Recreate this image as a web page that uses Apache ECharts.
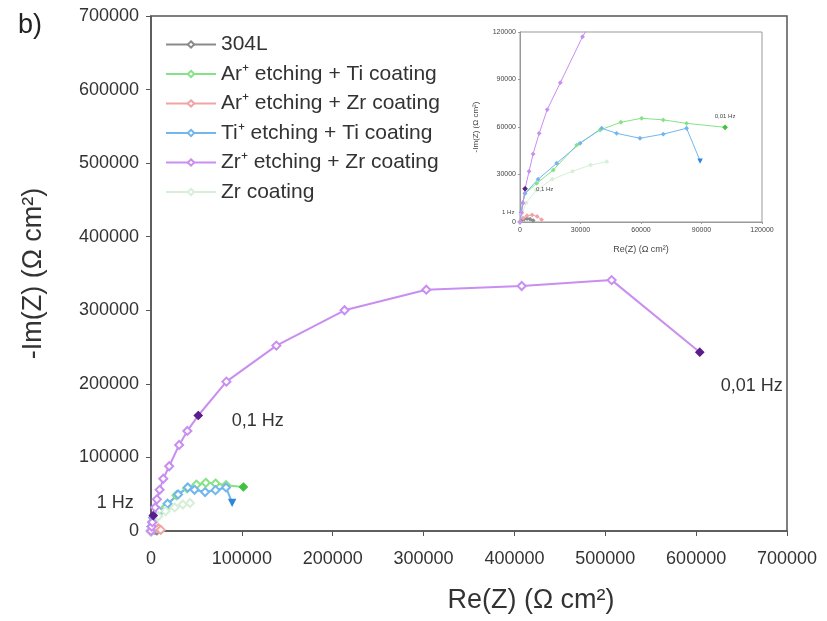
<!DOCTYPE html>
<html><head><meta charset="utf-8">
<script src="https://cdn.jsdelivr.net/npm/echarts@6/dist/echarts.min.js"></script>
<style>html,body{margin:0;padding:0;background:#fff}#c{width:827px;height:621px}</style>
</head><body><div id="c"></div>
<script>
// ---- data ----
const seriesNames = ['304L', 'Ar\u207A etching + Ti coating', 'Ar\u207A etching + Zr coating', 'Ti\u207A etching + Ti coating', 'Zr\u207A etching + Zr coating', 'Zr coating'];
const d304L = [[0,0],[800,1000],[2000,1800],[3500,2200],[5000,1800],[6500,900]];
const dArTi = [[0,0],[600,6000],[1400,12000],[2500,18000],[8300,24400],[16500,32800],[28100,48600],[39700,58100],[50000,63000],[60300,65500],[71000,64500],[82600,62300],[101700,59800]];
const dArZr = [[0,0],[1500,2500],[3500,4000],[6000,4500],[8500,3500],[10700,1500]];
const dTiTi = [[0,0],[500,6000],[1300,12000],[2480,18100],[9000,27000],[18200,37100],[29800,49700],[40500,59200],[47900,56000],[59500,52900],[71000,55500],[82600,59200],[89300,38700]];
const dZrZr = [[0,0],[800,6000],[1500,12000],[2500,21000],[4500,32000],[6500,43000],[9500,56000],[13500,71000],[20000,88000],[31000,117000],[40000,136000],[52000,157000],[83000,203000],[138000,252000],[213000,300000],[303000,328000],[408000,333000],[507000,341000],[604000,243000]];
const dZrCoat = [[0,0],[1000,5000],[3000,12000],[8000,20000],[16000,27000],[26000,32000],[35000,36000],[43000,38100]];
// frequency-marker indices (filled symbols)
const filledArTi = [12];
const filledTiTi = [12];
const filledZrZr = [3, 11, 18];
const xTicksMain = [0, 700000, 100000];
const yTicksMain = [0, 700000, 100000];
const ticksInset = [0, 120000, 30000];

const colors = ['#8a8a8a', '#86e286', '#f2a3a3', '#72b6ee', '#c98ef0', '#d6efd6'];
const filledColors = [null, '#3fc23f', null, '#2f86dc', '#5b1c8c', null];
const filledSymbols = [null, 'diamond', null, 'triangle', 'diamond', null];
const font = '"Liberation Sans", Arial, sans-serif';

const mainLabelCfg = {
  3: { show: true, formatter: '1 Hz', position: 'left', offset: [-10, -13], fontSize: 18, color: '#333', fontFamily: font },
  11: { show: true, formatter: '0,1 Hz', position: 'right', offset: [24, 6], fontSize: 18, color: '#333', fontFamily: font },
  18: { show: true, formatter: '0,01 Hz', position: 'bottom', offset: [52, 15], fontSize: 18, color: '#333', fontFamily: font }
};
const insetLabelCfgTi = {
  3: { show: true, formatter: '0,1 Hz', position: 'right', offset: [4, -4], fontSize: 6, color: '#444', fontFamily: font }
};
const insetLabelCfgArTi = {
  12: { show: true, formatter: '0,01 Hz', position: 'top', offset: [0, 0], fontSize: 6, color: '#444', fontFamily: font }
};
const insetLabelCfgZr = {
  3: { show: true, formatter: '1 Hz', position: 'left', offset: [-3, 24], fontSize: 6, color: '#444', fontFamily: font }
};

const allData = [d304L, dArTi, dArZr, dTiTi, dZrZr, dZrCoat];
const allFilled = [null, filledArTi, null, filledTiTi, filledZrZr, null];

function build(idx, inset, labelCfg) {
  const arr = allData[idx];
  const data = arr.map((p, i) => {
    const o = { value: p };
    const f = allFilled[idx];
    if (f && f.indexOf(i) >= 0) {
      const tri = filledSymbols[idx] === 'triangle';
      o.symbol = filledSymbols[idx];
      o.symbolRotate = tri ? 180 : 0;
      o.symbolSize = inset ? (tri ? 3.5 : 4) : (tri ? 6.5 : 8);
      o.itemStyle = { color: filledColors[idx], borderColor: filledColors[idx] };
    }
    if (labelCfg && labelCfg[i]) o.label = labelCfg[i];
    return o;
  });
  return {
    name: seriesNames[idx],
    type: 'line',
    xAxisIndex: inset ? 1 : 0,
    yAxisIndex: inset ? 1 : 0,
    data: data,
    symbol: 'emptyDiamond',
    symbolSize: inset ? 2 : 8,
    showSymbol: true,
    lineStyle: { color: colors[idx], width: inset ? 1 : 2 },
    itemStyle: { color: colors[idx], borderColor: colors[idx], borderWidth: 1.2 },
    color: colors[idx],
    clip: true,
    animation: false,
    z: idx === 4 ? 3 : 2
  };
}

const series = [];
for (let i = 0; i < 6; i++) series.push(build(i, false, i === 4 ? mainLabelCfg : null));
const insetCfgs = [null, insetLabelCfgArTi, null, insetLabelCfgTi, insetLabelCfgZr, null];
for (let i = 0; i < 6; i++) series.push(build(i, true, insetCfgs[i]));

const plain = v => String(v);
const axisText = { color: '#333', fontSize: 18, fontFamily: font, formatter: plain };
const option = {
  animation: false,
  backgroundColor: '#fff',
  graphic: [{ type: 'text', left: 18, top: 12, style: { text: 'b)', fontSize: 27, fill: '#222', fontFamily: font } }],
  legend: {
    data: seriesNames,
    orient: 'vertical',
    left: 160, top: 29,
    itemWidth: 50, itemHeight: 8, itemGap: 8.5,
    textStyle: { fontSize: 21, color: '#333', fontFamily: font }
  },
  grid: [
    { left: 151, right: 40, top: 16, bottom: 90, show: true, borderColor: '#555', borderWidth: 1.5, backgroundColor: 'transparent' },
    { left: 520, top: 32, width: 242, height: 190, show: true, borderColor: '#999', borderWidth: 1, backgroundColor: '#fff' }
  ],
  xAxis: [
    { type: 'value', gridIndex: 0, min: xTicksMain[0], max: xTicksMain[1], interval: xTicksMain[2],
      name: 'Re(Z) (\u03A9 cm\u00B2)', nameLocation: 'middle', nameGap: 56,
      nameTextStyle: { fontSize: 27, color: '#333', fontFamily: font, padding: [0, 0, 0, 124] },
      axisLine: { lineStyle: { color: '#555', width: 1.5 } },
      axisTick: { inside: false, length: 5, lineStyle: { color: '#555' } },
      axisLabel: Object.assign({ margin: 19 }, axisText),
      splitLine: { show: false } },
    { type: 'value', gridIndex: 1, min: ticksInset[0], max: ticksInset[1], interval: ticksInset[2],
      name: 'Re(Z) (\u03A9 cm\u00B2)', nameLocation: 'middle', nameGap: 23,
      nameTextStyle: { fontSize: 9, color: '#444', fontFamily: font },
      axisLine: { lineStyle: { color: '#999', width: 1 } },
      axisTick: { length: 2, lineStyle: { color: '#999' } },
      axisLabel: { fontSize: 7, color: '#444', margin: 5, fontFamily: font, formatter: plain },
      splitLine: { show: false } }
  ],
  yAxis: [
    { type: 'value', gridIndex: 0, min: yTicksMain[0], max: yTicksMain[1], interval: yTicksMain[2],
      name: '-Im(Z) (\u03A9 cm\u00B2)', nameLocation: 'middle', nameGap: 104, nameRotate: 90,
      nameTextStyle: { fontSize: 27, color: '#333', fontFamily: font },
      axisLine: { lineStyle: { color: '#555', width: 1.5 } },
      axisTick: { length: 5, lineStyle: { color: '#555' } },
      axisLabel: Object.assign({ margin: 12 }, axisText),
      splitLine: { show: false } },
    { type: 'value', gridIndex: 1, min: ticksInset[0], max: ticksInset[1], interval: ticksInset[2],
      name: '-Im(Z) (\u03A9 cm\u00B2)', nameLocation: 'middle', nameGap: 40, nameRotate: 90,
      nameTextStyle: { fontSize: 8, color: '#444', fontFamily: font },
      axisLine: { lineStyle: { color: '#999', width: 1 } },
      axisTick: { length: 2, lineStyle: { color: '#999' } },
      axisLabel: { fontSize: 7, color: '#444', margin: 4, fontFamily: font, formatter: plain },
      splitLine: { show: false } }
  ],
  series: series
};
const chart = echarts.init(document.getElementById('c'), null, { renderer: 'canvas' });
chart.setOption(option);
</script></body></html>
